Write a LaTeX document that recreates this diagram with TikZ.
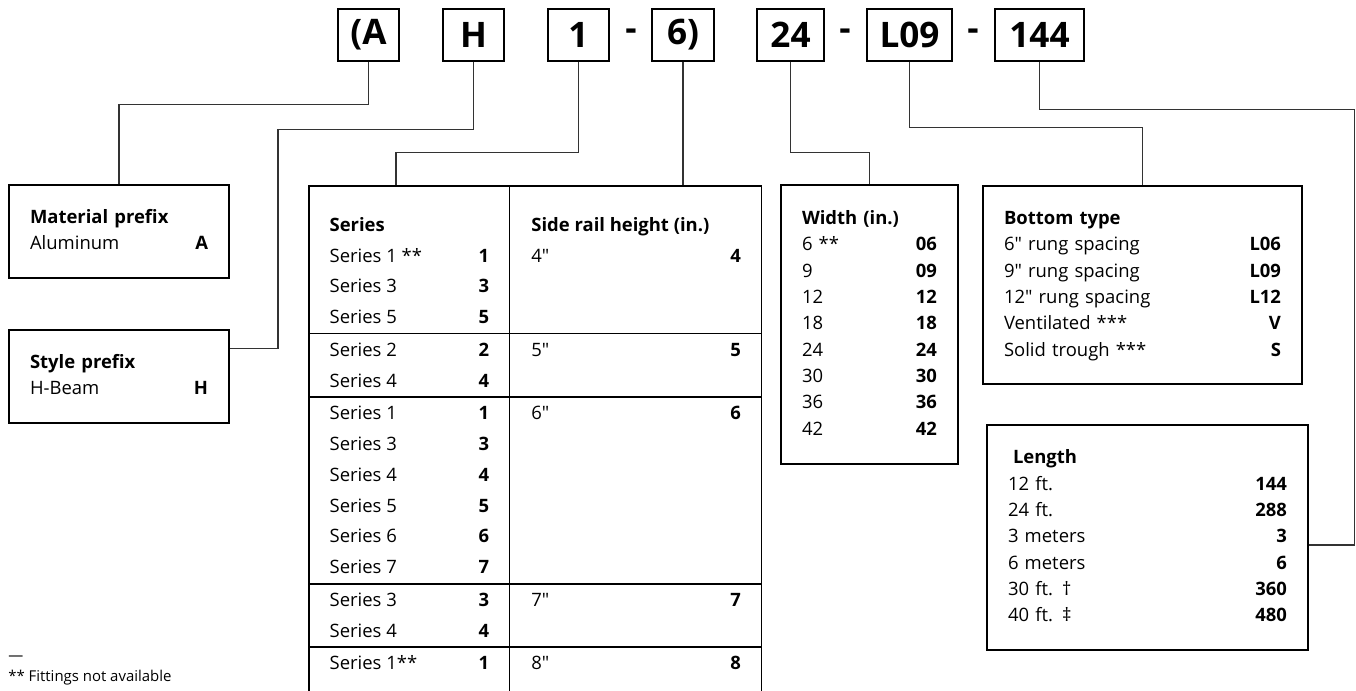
\documentclass[tikz,border=0pt]{standalone}
\usepackage{fontspec}
\usepackage{array}
\setmainfont{Open Sans}
\newfontfamily\rawfont{Open Sans}
\newcommand{\inch}{{\rawfont"}}
\setlength{\arrayrulewidth}{0.75pt}

\begin{document}
\begin{tikzpicture}[x=0.02cm, y=-0.02cm,
        code/.style={draw, line width=0.75pt, minimum height=1.04cm, inner sep=0pt, font=\fontsize{20}{24}\selectfont\bfseries},
        info/.style={draw, line width=0.75pt, inner ysep=0pt, inner xsep=0.42cm, font=\fontsize{10.5}{15}\selectfont},
        link/.style={line width=0.65pt, black!80}]
        \useasboundingbox (0,0) rectangle (1356,690);

        \node[code, minimum width=1.22cm] (cA) at (368.5,35) {(A};
        \node[code, minimum width=1.22cm] (cH) at (473.5,35) {H};
        \node[code, minimum width=1.22cm] (c1) at (578.5,35) {1};
        \node[code, draw=none] (dash1) at (631,35) {-};
        \node[code, minimum width=1.24cm] (c6) at (683,35) {6)};
        \node[code, minimum width=1.34cm] (c24) at (790.5,35) {24};
        \node[code, draw=none] (dash2) at (845,35) {-};
        \node[code, minimum width=1.7cm] (cL) at (909.5,35) {L09};
        \node[code, draw=none] (dash3) at (973,35) {-};
        \node[code, minimum width=1.78cm] (c144) at (1039.5,35) {144};

        \node[info, text width=3.56cm, minimum height=1.86cm] (matbox) at (119,231.5) {
            \begin{tabular*}{\linewidth}{@{}l@{\extracolsep{\fill}}r@{}}
                \textbf{Material prefix} & \\
                Aluminum & \textbf{A} \\
            \end{tabular*}
        };
        \node[info, text width=3.56cm, minimum height=1.86cm] (stylebox) at (119,376.5) {
            \begin{tabular*}{\linewidth}{@{}l@{\extracolsep{\fill}}r@{}}
                \textbf{Style prefix} & \\
                H-Beam & \textbf{H} \\
            \end{tabular*}
        };

        \node[anchor=north west, inner sep=0pt, font=\fontsize{10.5}{17.6}\selectfont] (seriesbox) at (308,185) {
            \begin{tabular}{|@{\hspace{0.4cm}}p{3.19cm}@{\hspace{0.4cm}}|@{\hspace{0.42cm}}p{4.19cm}@{\hspace{0.4cm}}|}
                \hline
                \rule{0pt}{25.3pt}\textbf{Series} & \textbf{Side rail height (in.)} \\
                Series 1 **\hfill\textbf{1} & 4\inch\hfill\textbf{4} \\
                Series 3\hfill\textbf{3} & \\
                Series 5\hfill\textbf{5} & \\
                \hline
                Series 2\hfill\textbf{2} & 5\inch\hfill\textbf{5} \\
                Series 4\hfill\textbf{4} & \\
                \hline
                Series 1\hfill\textbf{1} & 6\inch\hfill\textbf{6} \\
                Series 3\hfill\textbf{3} & \\
                Series 4\hfill\textbf{4} & \\
                Series 5\hfill\textbf{5} & \\
                Series 6\hfill\textbf{6} & \\
                Series 7\hfill\textbf{7} & \\
                \hline
                Series 3\hfill\textbf{3} & 7\inch\hfill\textbf{7} \\
                Series 4\hfill\textbf{4} & \\
                \hline
                Series 1**\hfill\textbf{1} & 8\inch\hfill\textbf{8} \\[1cm]
            \end{tabular}
        };

        \node[info, text width=2.7cm, minimum height=5.58cm] (widthbox) at (869.5,324.5) {
            \begin{tabular*}{\linewidth}{@{}l@{\extracolsep{\fill}}r@{}}
                \textbf{Width (in.)} & \\
                6 ** & \textbf{06} \\
                9 & \textbf{09} \\
                12 & \textbf{12} \\
                18 & \textbf{18} \\
                24 & \textbf{24} \\
                30 & \textbf{30} \\
                36 & \textbf{36} \\
                42 & \textbf{42} \\
            \end{tabular*}
        };
        \node[info, text width=5.54cm, minimum height=3.96cm] (bottombox) at (1142.5,285) {
            \begin{tabular*}{\linewidth}{@{}l@{\extracolsep{\fill}}r@{}}
                \textbf{Bottom type} & \\
                6\inch{} rung spacing & \textbf{L06} \\
                9\inch{} rung spacing & \textbf{L09} \\
                12\inch{} rung spacing & \textbf{L12} \\
                Ventilated *** & \textbf{V} \\
                Solid trough *** & \textbf{S} \\
            \end{tabular*}
        };
        \node[info, text width=5.58cm, minimum height=4.5cm] (lengthbox) at (1147.5,537.5) {
            \begin{tabular*}{\linewidth}{@{}l@{\extracolsep{\fill}}r@{}}
                \hspace{1mm}\textbf{Length} & \\
                12 ft. & \textbf{144} \\
                24 ft. & \textbf{288} \\
                3 meters & \textbf{3} \\
                6 meters & \textbf{6} \\
                30 ft. † & \textbf{360} \\
                40 ft. ‡ & \textbf{480} \\
            \end{tabular*}
        };

        \node[anchor=west, align=left, inner sep=0pt, font=\fontsize{8.5}{11.9}\selectfont] (note) at (8,670.5) {—\\** Fittings not available};

        \coordinate (serA) at (396,185);
        \draw[link] (cA.south) -- ++(0,43) -| (matbox.north);
        \draw[link] (cH.south) |- ++(-195.5,68) |- ([yshift=-0.38cm]stylebox.north east);
        \draw[link] (c1.south) -- ++(0,91) -| (serA);
        \draw[link] (c6.south) -- (c6.south |- seriesbox.north);
        \draw[link] (c24.south) -- ++(0,91) -| (widthbox.north);
        \draw[link] (cL.south) -- ++(0,66) -| (bottombox.north);
        \draw[link] (c144.south) |- ++(315,48) |- ([yshift=-0.15cm]lengthbox.east);
    \end{tikzpicture}
\end{document}
